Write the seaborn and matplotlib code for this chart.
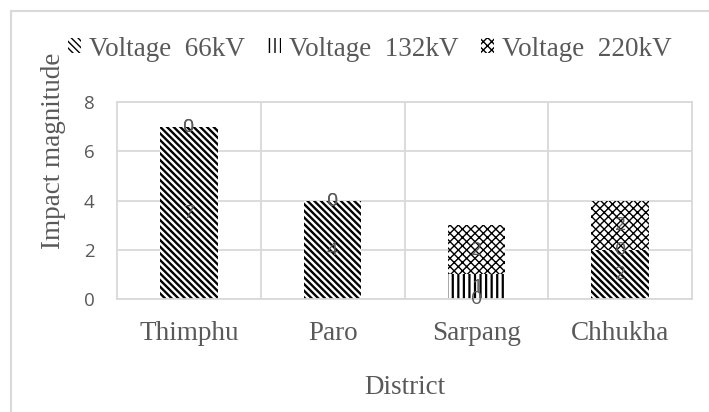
import matplotlib
matplotlib.use("Agg")
import matplotlib.pyplot as plt
import matplotlib.patches as mpatches
from matplotlib.lines import Line2D
import numpy as np
import pandas as pd
import seaborn as sns

districts = ["Thimphu", "Paro", "Sarpang", "Chhukha"]
series_names = ["Voltage  66kV", "Voltage  132kV", "Voltage  220kV"]
v66 = [7, 4, 0, 2]
v132 = [0, 0, 1, 0]
v220 = [0, 0, 2, 2]
yticks = [0, 2, 4, 6, 8]

hatches = ["\\\\\\\\\\", "|||", "xxxx"]
hatch_lw = [1.7, 1.6, 1.0]
values = [v66, v132, v220]

sns.set_theme(style="white")
plt.rcParams['font.family'] = ['Liberation Serif', 'DejaVu Serif']

fig = plt.figure(figsize=(7.09, 4.12), dpi=100)
ax = fig.add_axes([117/709, 1-299/412, (692-117)/709, (299-102)/412])

cum = np.cumsum(np.array(values), axis=0)
bottoms = np.vstack([np.zeros(len(districts)), cum[:-1]])

for i in reversed(range(3)):
    df = pd.DataFrame({"district": districts, "top": cum[i]})
    with plt.rc_context({"hatch.linewidth": hatch_lw[i], "hatch.color": "black"}):
        sns.barplot(data=df, x="district", y="top", ax=ax, color="white",
                    width=0.40, edgecolor="black", linewidth=0, hatch=hatches[i],
                    saturation=1, errorbar=None, order=districts)

for i in range(3):
    for j, d in enumerate(districts):
        y = bottoms[i][j] + values[i][j] / 2
        ax.text(j, y, str(values[i][j]), ha="center", va="center",
                fontsize=14, color="#595959", family=["Open Sans", "DejaVu Sans"])

ax.set_ylim(0, 8)
ax.set_xlim(-0.5, 3.5)
ax.set_yticks(yticks)
ax.set_yticklabels([str(t) for t in yticks], family=["Open Sans", "DejaVu Sans"],
                   fontsize=13.5, color="#595959")
ax.set_xticks(range(len(districts)))
ax.set_xticklabels(districts, fontsize=19.5, color="#595959")
ax.set_xticks([0.5, 1.5, 2.5], minor=True)
ax.tick_params(axis="both", which="both", length=0)
ax.tick_params(axis="y", pad=16)
ax.tick_params(axis="x", pad=16)
ax.grid(axis="y", which="major", color="#d9d9d9", linewidth=1.3)
ax.grid(axis="x", which="minor", color="#d9d9d9", linewidth=1.3)
ax.grid(axis="x", which="major", visible=False)
ax.set_axisbelow(True)
for s in ax.spines.values():
    s.set_visible(True)
    s.set_color("#d9d9d9")
    s.set_linewidth(1.3)

ax.set_xlabel("District", fontsize=19.5, color="#595959", labelpad=21)
ax.set_ylabel("Impact magnitude", fontsize=19.5, color="#595959")
ax.yaxis.set_label_coords(-0.089, 0.751)

handles = []
for i in range(3):
    with plt.rc_context({"hatch.linewidth": hatch_lw[i], "hatch.color": "black"}):
        handles.append(mpatches.Patch(facecolor="white", edgecolor="black", linewidth=0,
                                      hatch=hatches[i], label=series_names[i]))
leg = fig.legend(handles=handles, loc="center left", bbox_to_anchor=(68/709, 1-49/412),
                 ncol=3, frameon=False, fontsize=19.5, handlelength=0.48, handleheight=0.48,
                 handletextpad=0.3, columnspacing=0.83, labelcolor="#595959",
                 borderpad=0, borderaxespad=0)

fig.add_artist(Line2D([11/709, 11/709], [0, 1-11/412], color="#d9d9d9", linewidth=1.5, transform=fig.transFigure))
fig.add_artist(Line2D([11/709, 1], [1-11/412, 1-11/412], color="#d9d9d9", linewidth=1.5, transform=fig.transFigure))

fig.savefig("out.png", dpi=100)
